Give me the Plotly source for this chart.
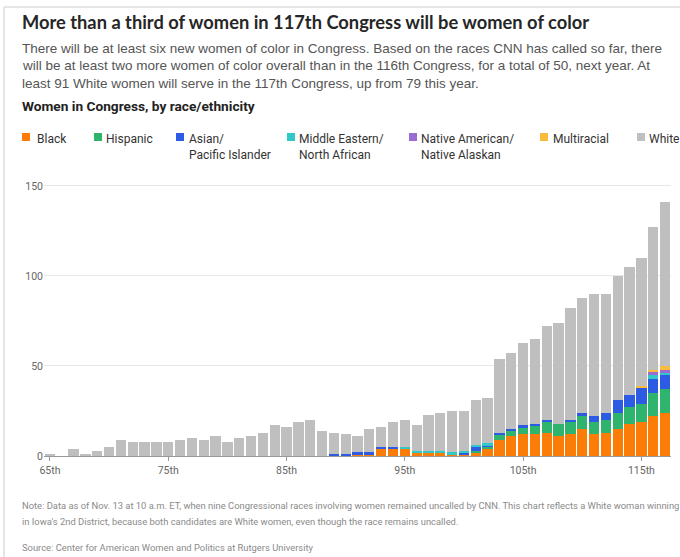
import plotly.graph_objects as go

# ---------------- data ----------------
congress = list(range(65, 118))
tick_vals = [65, 75, 85, 95, 105, 115]
tick_text = ["65th", "75th", "85th", "95th", "105th", "115th"]

black = [0]*24 + [0, 0, 1, 1, 4, 4, 4, 2, 2, 2, 1, 1, 2, 4, 9, 11, 12, 12, 13, 11,
                  12, 15, 12, 13, 15, 18, 19, 22, 24]
hispanic = [0]*24 + [0, 0, 0, 0, 0, 0, 0, 0, 0, 0, 0, 0, 1, 1, 3, 3, 4, 5, 6, 7,
                     7, 7, 7, 7, 9, 9, 10, 13, 13]
asian = [0]*24 + [1, 1, 1, 1, 1, 1, 0, 0, 0, 0, 0, 1, 2, 1, 1, 1, 1, 1, 1, 0,
                  1, 2, 3, 4, 7, 7, 9, 8, 8]
mena = [0]*24 + [0, 0, 0, 0, 0, 0, 1, 1, 1, 1, 1, 1, 1, 1, 0, 0, 0, 0, 0, 0,
                 0, 0, 0, 0, 0, 0, 0, 2, 1]
native = [0]*24 + [0]*27 + [2, 2]
multiracial = [0]*24 + [0]*26 + [1, 1, 2]
white = [1, 0, 4, 1, 3, 5, 9, 8, 8, 8, 8, 9, 10, 9, 11, 8, 10, 11, 13, 17, 16, 19, 20, 14,
         12, 11, 9, 13, 11, 14, 15, 14, 20, 21, 23, 22, 25, 25, 41, 42, 46, 47, 52, 56,
         62, 64, 68, 66, 69, 71, 71, 79, 91]

series_names = ["Black", "Hispanic", "Asian/<br>Pacific Islander", "Middle Eastern/<br>North African",
                "Native American/<br>Native Alaskan", "Multiracial", "White"]
series_values = [black, hispanic, asian, mena, native, multiracial, white]
series_colors = ["#fb7d07", "#2fb46e", "#2d5be3", "#32c8c8", "#9a6cd4", "#fbbc3c", "#bfbfbf"]

# ---------------- figure ----------------
W, H = 680, 557
ML, MR, MT, MB = 44, 9, 180, 101
PW, PH = W - ML - MR, H - MT - MB

def px(x):
    return (x - ML) / PW

def py(y):
    return (H - MB - y) / PH

BOLD_T = "Lato, Roboto, sans-serif"
NARROW = "Roboto, sans-serif"
SANS = "Liberation Sans, Arial, Roboto, sans-serif"

fig = go.Figure()
for name, vals, col in zip(series_names, series_values, series_colors):
    fig.add_trace(go.Bar(x=congress, y=vals, name=name, marker=dict(color=col, line=dict(width=0)),
                         showlegend=False))

annotations = []
annotations.append(dict(text="<b>More than a third of women in 117th Congress will be women of color</b>",
                        x=px(20), y=py(22), xanchor="left", yanchor="middle",
                        font=dict(family=BOLD_T, size=18.3, color="#262626")))
sub_lines = ["There will be at least six new women of color in Congress. Based on the races CNN has called so far, there",
             "will be at least two more women of color overall than in the 116th Congress, for a total of 50, next year. At",
             "least 91 White women will serve in the 117th Congress, up from 79 this year."]
for i, line in enumerate(sub_lines):
    annotations.append(dict(text=line, x=px(20), y=py(48 + 17.7 * i), xanchor="left", yanchor="middle",
                            font=dict(family=SANS, size=13.5, color="#555555")))
annotations.append(dict(text="<b>Women in Congress, by race/ethnicity</b>", x=px(20), y=py(106),
                        xanchor="left", yanchor="middle",
                        font=dict(family=NARROW, size=13.7, color="#222222")))

# legend (manual)
sq_left = [22, 94, 176, 287, 409, 540, 637]
txt_left = [35, 104, 187, 297, 419, 551, 647]
shapes = []
for name, col, sx, tx in zip(series_names, series_colors, sq_left, txt_left):
    shapes.append(dict(type="rect", xref="paper", yref="paper", x0=px(sx), x1=px(sx + 8),
                       y0=py(141), y1=py(133), fillcolor=col, line=dict(width=0)))
    annotations.append(dict(text=name, x=px(tx), y=py(130), xanchor="left", yanchor="top", align="left",
                            font=dict(family=NARROW, size=12, color="#333333")))

notes = ["Note: Data as of Nov. 13 at 10 a.m. ET, when nine Congressional races involving women remained uncalled by CNN. This chart reflects a White woman winning",
         "in Iowa's 2nd District, because both candidates are White women, even though the race remains uncalled."]
for i, line in enumerate(notes):
    annotations.append(dict(text=line, x=px(20), y=py(505 + 16 * i), xanchor="left", yanchor="middle",
                            font=dict(family=NARROW, size=9.4, color="#8a8a8a")))
annotations.append(dict(text="Source: Center for American Women and Politics at Rutgers University",
                        x=px(20), y=py(547), xanchor="left", yanchor="middle",
                        font=dict(family=NARROW, size=9.4, color="#8a8a8a")))
for a in annotations:
    a.setdefault("xref", "paper")
    a.setdefault("yref", "paper")
    a.setdefault("showarrow", False)

# page border
shapes.append(dict(type="line", xref="paper", yref="paper", x0=px(4), x1=px(4), y0=py(7), y1=py(557),
                   line=dict(color="#dddddd", width=1.5)))
shapes.append(dict(type="line", xref="paper", yref="paper", x0=px(4), x1=px(680), y0=py(7), y1=py(7),
                   line=dict(color="#dddddd", width=1.5)))

fig.update_layout(
    width=W, height=H, autosize=False,
    margin=dict(l=ML, r=MR, t=MT, b=MB, pad=0),
    paper_bgcolor="white", plot_bgcolor="white",
    barmode="stack", bargap=0.13,
    annotations=annotations, shapes=shapes,
    xaxis=dict(range=[64.5, 117.5], tickmode="array", tickvals=tick_vals, ticktext=tick_text,
               ticks="outside", ticklen=4, tickcolor="#999999", showline=True, linecolor="#999999",
               linewidth=1, showgrid=False, zeroline=False,
               tickfont=dict(family=NARROW, size=10.5, color="#666666")),
    yaxis=dict(range=[0, 153.3], tickvals=[0, 50, 100, 150], showgrid=True, gridcolor="#e8e8e8",
               zeroline=False, ticks="", showline=False,
               tickfont=dict(family=NARROW, size=10.5, color="#666666")),
)

fig.write_html("out.html", config={"displayModeBar": False},
               post_script="document.body.style.margin='0';document.body.style.overflow='hidden';")
